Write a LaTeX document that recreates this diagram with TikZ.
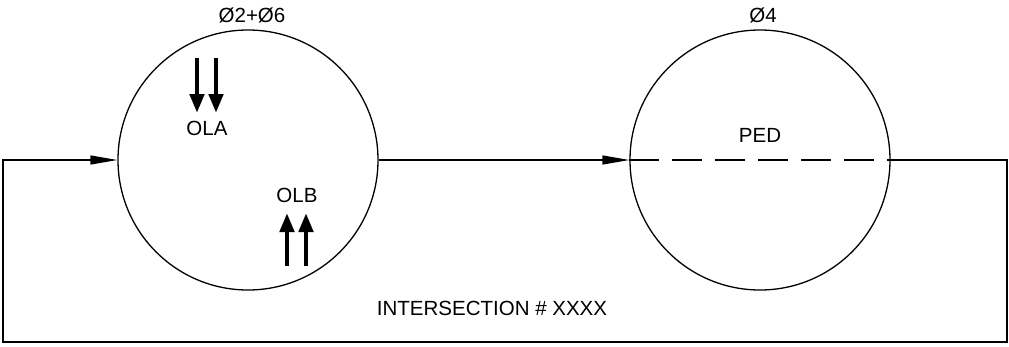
\documentclass[tikz,border=0pt]{standalone}
\usepackage{fontspec}
\setmainfont{Liberation Sans}
\usetikzlibrary{arrows.meta}
\tikzset{
  phase/.style={circle,draw,line width=1.3pt,minimum size=260pt,inner sep=0pt},
  flow/.style={line width=1.3pt,-{Triangle[length=27pt,width=9pt]}},
  wire/.style={line width=1.3pt},
  dashwire/.style={line width=1.3pt,dash pattern=on 30pt off 13pt},
  move/.style={line width=4.5pt,-{Triangle[length=19pt,width=14pt]}},
  lbl/.style={font=\fontsize{20.5}{20.5}\selectfont,inner sep=0pt}
}
\begin{document}
\begin{tikzpicture}[x=1pt,y=-1pt]
\useasboundingbox (0,0) rectangle (1009,346);
\node[phase] (L) at (248,160) {};
\node[phase] (R) at (760,160) {};
\node[lbl] (t1) at (252,15) {Ø2+Ø6};
\node[lbl] (t2) at (763,15) {Ø4};
\node[lbl] (ped) at (760,135) {PED};
\node[lbl] (ola) at (207,128) {OLA};
\node[lbl] (olb) at (297,195) {OLB};
\node[lbl] (ix) at (492,308) {INTERSECTION \# XXXX};
\coordinate (a1s) at (197,58); \coordinate (a1e) at (197,113);
\coordinate (a2s) at (216,58); \coordinate (a2e) at (216,113);
\coordinate (b1s) at (287,266); \coordinate (b1e) at (287,213);
\coordinate (b2s) at (306,266); \coordinate (b2e) at (306,213);
\draw[move] (a1s) -- (a1e);
\draw[move] (a2s) -- (a2e);
\draw[move] (b1s) -- (b1e);
\draw[move] (b2s) -- (b2e);
\coordinate (c1) at (1007,160);
\coordinate (c2) at (1007,342);
\coordinate (c3) at (3,342);
\coordinate (c4) at (3,160);
\draw[flow] (L.east) -- (R.west);
\draw[dashwire] (R.west) -- (R.east);
\draw[flow] (R.east) -- (c1) -- (c2) -- (c3) -- (c4) -- (L.west);
\end{tikzpicture}
\end{document}
